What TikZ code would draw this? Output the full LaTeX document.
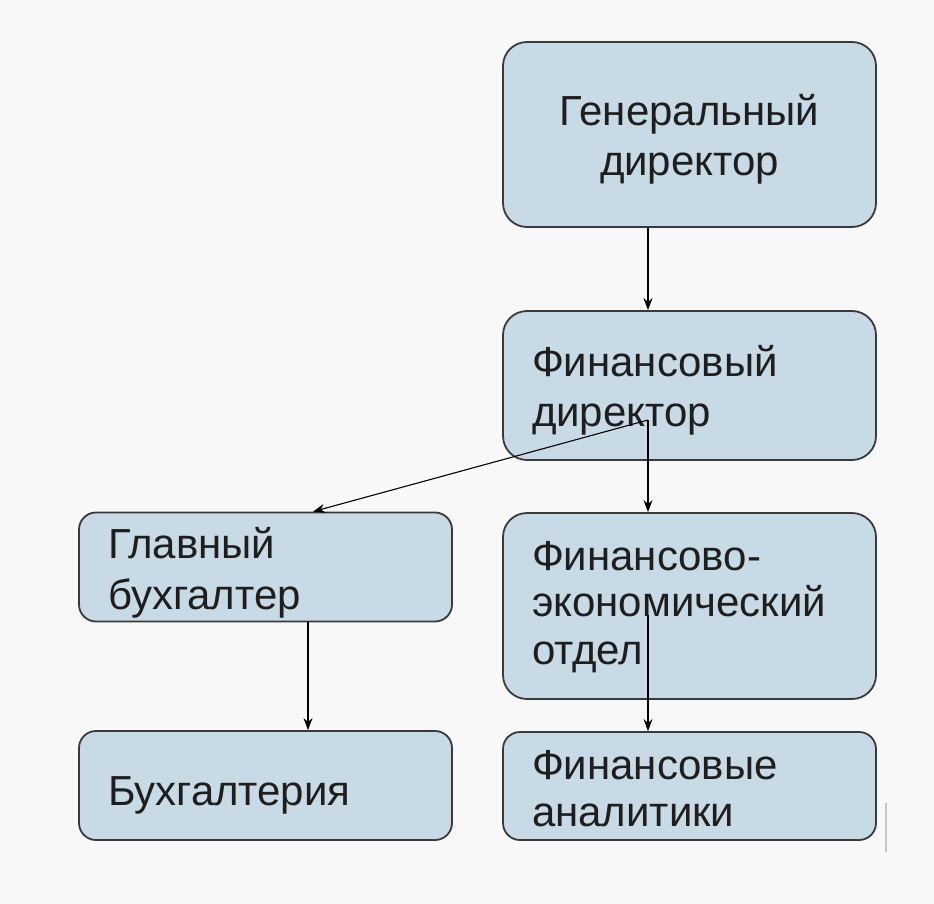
\documentclass[tikz,border=0pt]{standalone}
\usepackage{fontspec}
\setmainfont{Liberation Sans}
\usetikzlibrary{arrows.meta,calc}
\definecolor{boxfill}{HTML}{C9DAE7}
\definecolor{boxline}{HTML}{3A3A3A}
\definecolor{txt}{HTML}{1E1E1E}
\definecolor{bg}{HTML}{F8F8F8}
\newcommand{\dnline}[2]{\raisebox{-#1}[\height][\depth]{#2}}
\tikzset{
  box/.style={draw=boxline, line width=1.8pt, fill=boxfill, rounded corners=24pt,
    minimum width=373pt, text=txt, font=\fontsize{42}{50}\selectfont},
  smallbox/.style={box, rounded corners=17pt},
  lefttext/.style={text width=315pt, align=left, inner xsep=29pt},
  arr/.style={draw=black, line width=1.1pt, -{Stealth[length=12pt,width=9pt]}},
}
\begin{document}
\begin{tikzpicture}[x=1pt,y=-1pt]
\fill[bg] (0,0) rectangle (934,904);
\useasboundingbox (0,0) rectangle (934,904);

\node[box, minimum height=185pt, align=center] (gd) at (689.5,134.5) {\dnline{5pt}{Генеральный}\\\dnline{5pt}{директор}};
\node[box, lefttext, minimum height=149pt] (fd) at (689.5,385.5) {\dnline{5pt}{Финансовый}\\\dnline{5pt}{директор}};
\node[smallbox, lefttext, minimum height=109pt] (gb) at (265.5,567) {\dnline{5pt}{Главный}\\\dnline{6pt}{бухгалтер}};
\node[box, lefttext, minimum height=186pt, font=\fontsize{42}{47}\selectfont] (feo) at (689.5,606) {\dnline{1pt}{Финансово-}\\экономический\\\dnline{1pt}{отдел}};
\node[smallbox, lefttext, minimum height=109pt] (bux) at (265.5,785.5) {\dnline{10pt}{Бухгалтерия}};
\node[smallbox, lefttext, minimum height=108pt, font=\fontsize{42}{47}\selectfont] (fa) at (689.5,786) {\dnline{3pt}{Финансовые}\\\dnline{3pt}{аналитики}};

\coordinate (rx) at (648,0);
\coordinate (lx) at (308,0);
\coordinate (gbin) at (313,0);
\coordinate (fdsrc) at (648,420);
\coordinate (feosrc) at (648,615);

\draw[arr] (gd.south -| rx) -- (fd.north -| rx);
\draw[arr] (fdsrc) -- (gb.north -| gbin);
\draw[arr] (fdsrc) -- (feo.north -| fdsrc);
\draw[arr] (gb.south -| lx) -- (bux.north -| lx);
\draw[arr] (feosrc) -- (fa.north -| feosrc);

\draw[gray!45, line width=1.2pt] (886,803) -- (886,852);
\end{tikzpicture}
\end{document}
